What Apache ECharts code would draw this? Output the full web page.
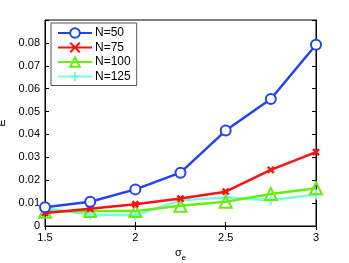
<!DOCTYPE html>
<html><head><meta charset="utf-8">
<script src="https://cdn.jsdelivr.net/npm/echarts@6/dist/echarts.min.js"></script>
<style>html,body{margin:0;padding:0;background:#fff}#c{width:349px;height:263px}</style>
</head><body><div id="c"></div>
<script>
const sigma = [1.5, 1.75, 2, 2.25, 2.5, 2.75, 3];
const seriesNames = ['N=50', 'N=75', 'N=100', 'N=125'];
const n50 = [0.0082, 0.0106, 0.0160, 0.0233, 0.0417, 0.0555, 0.0792];
const n75 = [0.0057, 0.0075, 0.0095, 0.0120, 0.0150, 0.0245, 0.0323];
const n100 = [0.0062, 0.0065, 0.0065, 0.0088, 0.0106, 0.0140, 0.0165];
const n125 = [0.0078, 0.0050, 0.0047, 0.0112, 0.0125, 0.0113, 0.0138];
const xTicks = [1.5, 2, 2.5, 3];
const yTicks = [0, 0.01, 0.02, 0.03, 0.04, 0.05, 0.06, 0.07, 0.08];

const colors = ['#2342f0', '#ff1010', '#66ee11', '#78ffdd'];
const symbols = ['emptyCircle', 'path://M0,0L10,10M10,0L0,10', 'path://M5,0L10,9L0,9Z', 'path://M5,0L5,10M0,5L10,5'];
const sizes = [10, 6, 12, 10];
const borderWidths = [2, 2.5, 2, 2];
const datasets = [n50, n75, n100, n125];
const font = 'Liberation Sans, Arial, sans-serif';

const chart = echarts.init(document.getElementById('c'), null, {renderer: 'canvas'});
const axisLine = {show: true, lineStyle: {color: '#000', width: 1}};
chart.setOption({
  animation: false,
  backgroundColor: '#fff',
  grid: {left: 45, right: 33, top: 20, bottom: 37, show: true, borderColor: '#000', borderWidth: 1, outerBoundsMode: 'none', containLabel: false},
  legend: {
    orient: 'vertical', left: 51, top: 23,
    data: seriesNames,
    itemWidth: 34, itemHeight: 12, itemGap: 2.5,
    padding: [4, 6, 3, 6],
    backgroundColor: '#fff', borderColor: '#555', borderWidth: 1,
    textStyle: {fontFamily: font, fontSize: 12, color: '#000', padding: [0, 0, 0, -2]}
  },
  xAxis: [{
    type: 'value', min: 1.5, max: 3, interval: 0.5,
    axisLine: axisLine,
    axisTick: {inside: true, length: 4, lineStyle: {color: '#000'}},
    splitLine: {show: false},
    axisLabel: {fontFamily: font, fontSize: 11, color: '#000', margin: 6,
      formatter: v => xTicks.includes(+v.toFixed(2)) ? String(v) : ''},
    name: '{s|σ}{e|e}', nameLocation: 'middle', nameGap: 15,
    nameTextStyle: {rich: {s: {fontFamily: font, fontSize: 11, color: '#000'}, e: {fontFamily: font, fontSize: 8, color: '#000', padding: [8, 0, 0, 0]}}}
  }, {
    type: 'value', position: 'top', min: 1.5, max: 3, interval: 0.5,
    axisLine: axisLine, axisTick: {inside: true, length: 4, lineStyle: {color: '#000'}},
    axisLabel: {show: false}, splitLine: {show: false}
  }],
  yAxis: [{
    type: 'value', min: 0, max: 0.09, interval: 0.01,
    axisLine: axisLine,
    axisTick: {inside: true, length: 4, lineStyle: {color: '#000'}},
    splitLine: {show: false},
    axisLabel: {fontFamily: font, fontSize: 11, color: '#000', margin: 5,
      formatter: v => { const r = Math.round(v * 100) / 100; return yTicks.includes(r) ? (r === 0 ? '0' : r.toFixed(2)) : ''; }},
    name: 'E', nameLocation: 'middle', nameGap: 31, nameRotate: 90,
    nameTextStyle: {fontFamily: font, fontSize: 11, color: '#000'}
  }, {
    type: 'value', position: 'right', min: 0, max: 0.09, interval: 0.01,
    axisLine: axisLine, axisTick: {inside: true, length: 4, lineStyle: {color: '#000'}},
    axisLabel: {show: false}, splitLine: {show: false}
  }],
  series: datasets.map((d, i) => ({
    name: seriesNames[i], type: 'line',
    data: sigma.map((x, j) => [x, d[j]]),
    symbol: symbols[i], symbolSize: sizes[i],
    showAllSymbol: true,
    lineStyle: {color: colors[i], width: 2.5},
    itemStyle: {color: i === 0 ? colors[i] : 'rgba(0,0,0,0)', borderColor: colors[i], borderWidth: borderWidths[i]},
    z: 10 - i
  }))
});
</script></body></html>
